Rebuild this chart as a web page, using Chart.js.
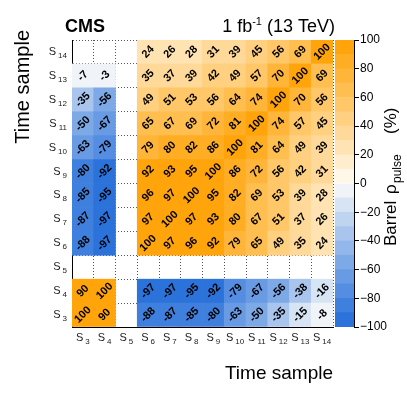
<!DOCTYPE html>
<html>
<head>
<meta charset="utf-8">
<script src="https://cdn.jsdelivr.net/npm/chart.js@4.4.0/dist/chart.umd.min.js"></script>
<style>
html, body { margin: 0; padding: 0; background: #fff; }
#wrap { position: relative; width: 407px; height: 399px; }
#main { position: absolute; left: 0; top: 0; }
#bar { position: absolute; left: 335px; top: 0; }
</style>
</head>
<body>
<div id="wrap">
  <canvas id="main" width="407" height="399"></canvas>
  <canvas id="bar" width="72" height="399"></canvas>
</div>
<script>
const FONT = '"Liberation Sans", Arial, Helvetica, sans-serif';

// time samples on both axes (S3 .. S14)
const samples = ['3', '4', '5', '6', '7', '8', '9', '10', '11', '12', '13', '14'];

// correlation in %, one row per time sample, columns S3 .. S14 (null = empty cell)
const rowS3  = [100, 90, null, -88, -87, -85, -80, -63, -50, -35, -15, -8];
const rowS4  = [90, 100, null, -97, -97, -95, -92, -79, -67, -56, -38, -16];
const rowS5  = [null, null, null, null, null, null, null, null, null, null, null, null];
const rowS6  = [-88, -97, null, 100, 97, 96, 92, 79, 65, 49, 35, 24];
const rowS7  = [-87, -97, null, 97, 100, 97, 93, 80, 67, 51, 37, 26];
const rowS8  = [-85, -95, null, 96, 97, 100, 95, 82, 69, 53, 39, 28];
const rowS9  = [-80, -92, null, 92, 93, 95, 100, 86, 72, 56, 42, 31];
const rowS10 = [-63, -79, null, 79, 80, 82, 86, 100, 81, 64, 49, 39];
const rowS11 = [-50, -67, null, 65, 67, 69, 72, 81, 100, 74, 57, 45];
const rowS12 = [-35, -56, null, 49, 51, 53, 56, 64, 74, 100, 70, 56];
const rowS13 = [-7, -3, null, 35, 37, 39, 42, 49, 57, 70, 100, 69];
const rowS14 = [null, null, null, 24, 26, 28, 31, 39, 45, 56, 69, 100];

// colour bar
const barEdges = [-100, -90, -80, -70, -60, -50, -40, -30, -20, -10, 0, 10, 20, 30, 40, 50, 60, 70, 80, 90, 100];
const barTicks = [-100, -80, -60, -40, -20, 0, 20, 40, 60, 80, 100];

const rows = [rowS3, rowS4, rowS5, rowS6, rowS7, rowS8, rowS9, rowS10, rowS11, rowS12, rowS13, rowS14];

function cellColor(v){
  if (v === null) return 'rgba(0,0,0,0)';
  const band = Math.min(9, Math.floor(Math.abs(v) / 10));
  const t = Math.pow((band + 0.5) / 10, 0.9);
  const w = [255, 254, 250];
  const end = v >= 0 ? [255, 160, 0] : [33, 108, 218];
  const c = w.map((a, k) => Math.round(a + (end[k] - a) * t));
  return `rgb(${c[0]},${c[1]},${c[2]})`;
}

// S with a subscript number
function drawSub(ctx, x, y, num, align){
  ctx.save();
  ctx.fillStyle = '#222';
  ctx.textBaseline = 'alphabetic';
  ctx.font = '11px ' + FONT;
  const wS = ctx.measureText('S').width;
  ctx.font = '8px ' + FONT;
  const wN = ctx.measureText(num).width;
  const total = wS + 2 + wN;
  let x0 = align === 'center' ? x - total / 2 : x - total;
  ctx.textAlign = 'left';
  ctx.font = '11px ' + FONT;
  ctx.fillText('S', x0, y);
  ctx.font = '8px ' + FONT;
  ctx.fillText(num, x0 + wS + 2, y + 3);
  ctx.restore();
}

const textPlugin = {
  id: 'texts',
  afterDraw(chart){
    const ctx = chart.ctx;
    const xs = chart.scales.x, ys = chart.scales.y;

    // numbers in cells
    chart.data.datasets.forEach((ds, i) => {
      const meta = chart.getDatasetMeta(i);
      meta.data.forEach((el, j) => {
        const v = ds.vals[j];
        if (v === null) return;
        const cy = (el.y + el.base) / 2;
        ctx.save();
        ctx.translate(el.x, cy);
        ctx.rotate(-Math.PI / 4);
        ctx.font = 'bold 11px ' + FONT;
        ctx.textAlign = 'center';
        ctx.textBaseline = 'middle';
        ctx.fillStyle = '#000';
        ctx.fillText(String(v), 0, 0);
        ctx.restore();
      });
    });

    // tick labels
    samples.forEach((s, j) => {
      drawSub(ctx, xs.getPixelForValue(j), 341, s, 'center');
      drawSub(ctx, 67, ys.getPixelForValue(j + 0.5) + 3, s, 'right');
    });

    ctx.save();
    ctx.fillStyle = '#000';
    ctx.textBaseline = 'alphabetic';
    // CMS
    ctx.font = 'bold 18px ' + FONT;
    ctx.textAlign = 'left';
    ctx.fillText('CMS', 65, 32);
    // lumi label, right aligned at 335
    ctx.font = '18px ' + FONT;
    const a = '1 fb', c = ' (13 TeV)';
    const wa = ctx.measureText(a).width, wc = ctx.measureText(c).width;
    ctx.font = '11px ' + FONT;
    const wb = ctx.measureText('-1').width;
    let x0 = 335 - wa - wb - wc;
    ctx.font = '18px ' + FONT;
    ctx.fillText(a, x0, 32);
    ctx.font = '11px ' + FONT;
    ctx.fillText('-1', x0 + wa, 25);
    ctx.font = '18px ' + FONT;
    ctx.fillText(c, x0 + wa + wb, 32);

    // axis titles
    ctx.font = '19px ' + FONT;
    ctx.textAlign = 'right';
    ctx.fillText('Time sample', 333, 379);
    ctx.save();
    ctx.font = '20px ' + FONT;
    ctx.translate(29, 30);
    ctx.rotate(-Math.PI / 2);
    ctx.fillText('Time sample', 0, 0);
    ctx.restore();

    // colour bar title
    ctx.save();
    ctx.translate(396, 246);
    ctx.rotate(-Math.PI / 2);
    ctx.textAlign = 'left';
    ctx.font = '17px ' + FONT;
    ctx.fillText('Barrel', 0, 0);
    ctx.fillText('\u03c1', 52, 0);
    ctx.font = '12px ' + FONT;
    ctx.fillText('pulse', 63, 5);
    ctx.font = '17px ' + FONT;
    ctx.fillText('(%)', 112, 0);
    ctx.restore();
    ctx.restore();
  }
};

const gridOpts = { color: '#555', lineWidth: 1, drawTicks: false, offset: true };
const borderOpts = { display: true, color: '#000', width: 1, dash: [1, 2] };

new Chart(document.getElementById('main'), {
  type: 'bar',
  data: {
    labels: samples,
    datasets: rows.map((row, i) => ({
      data: row.map(v => v === null ? null : [i, i + 1]),
      vals: row,
      backgroundColor: row.map(cellColor),
      borderWidth: 0,
      grouped: false,
      barPercentage: 1,
      categoryPercentage: 1
    }))
  },
  options: {
    responsive: false,
    animation: false,
    devicePixelRatio: 1,
    layout: { padding: { left: 0, top: 40, right: 74, bottom: 0 } },
    plugins: { legend: { display: false }, tooltip: { enabled: false } },
    scales: {
      x: {
        offset: true, z: 1,
        grid: gridOpts, border: borderOpts,
        ticks: { display: false },
        afterFit(s){ s.height = 72; }
      },
      y: {
        type: 'linear', min: 0, max: 12, z: 1,
        grid: Object.assign({}, gridOpts, { offset: false }), border: borderOpts,
        ticks: { display: false, stepSize: 1 },
        afterFit(s){ s.width = 72; }
      }
    }
  },
  plugins: [textPlugin]
});

// colour bar
new Chart(document.getElementById('bar'), {
  type: 'bar',
  data: {
    labels: [''],
    datasets: barEdges.slice(0, -1).map((lo, k) => ({
      data: [[lo, barEdges[k + 1]]],
      backgroundColor: cellColor((lo + barEdges[k + 1]) / 2),
      borderWidth: 0,
      grouped: false,
      barPercentage: 1,
      categoryPercentage: 1
    }))
  },
  options: {
    responsive: false,
    animation: false,
    devicePixelRatio: 1,
    layout: { padding: { left: 0, top: 40, right: 0, bottom: 72 } },
    plugins: { legend: { display: false }, tooltip: { enabled: false } },
    scales: {
      x: { display: false },
      y: {
        type: 'linear', position: 'right', min: -100, max: 100,
        afterBuildTicks(s){ s.ticks = barTicks.map(v => ({ value: v })); },
        ticks: {
          color: '#000', padding: 1,
          font: { size: 12, family: FONT },
          callback: v => (v < 0 ? '\u2212' : '') + Math.abs(v)
        },
        grid: { drawOnChartArea: false, drawTicks: true, tickLength: 5, color: '#000' },
        border: { display: true, color: '#000', width: 1 },
        afterFit(s){ s.width = 53; }
      }
    }
  }
});
</script>
</body>
</html>
